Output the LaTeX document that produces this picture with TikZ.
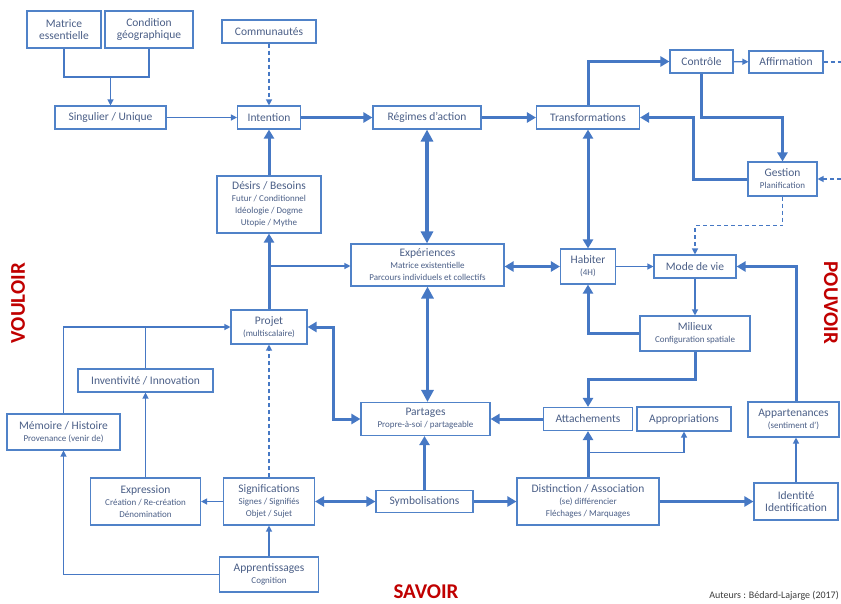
\documentclass[tikz,border=0pt]{standalone}
\usepackage{fontspec}
\setmainfont{Carlito}
\usetikzlibrary{arrows.meta}
\definecolor{linec}{RGB}{70,120,196}
\definecolor{boxc}{RGB}{80,130,200}
\definecolor{txtc}{RGB}{75,95,135}
\definecolor{redc}{RGB}{192,0,0}
\newcommand\smf{\fontsize{9}{11}\selectfont}
\tikzset{
  box/.style={draw=boxc, line width=1.1pt, fill=white, text=txtc, align=center, inner sep=1pt,
    font=\fontsize{11.5}{12}\selectfont},
  lnplain/.style={draw=linec, line width=1.2pt},
  lnthin/.style={lnplain, -{Triangle[length=6pt,width=6pt]}},
  lndash/.style={lnthin, dash pattern=on 4pt off 3pt},
  lndashplain/.style={lnplain, dash pattern=on 4pt off 3pt},
  lnthick/.style={draw=linec, line width=3pt, -{Triangle[length=9pt,width=10pt]}},
  lndbl/.style={draw=linec, line width=3pt, {Triangle[length=9pt,width=10pt]}-{Triangle[length=9pt,width=10pt]}},
  lnbig/.style={draw=linec, line width=3.6pt, {Triangle[length=12pt,width=12pt]}-{Triangle[length=12pt,width=12pt]}},
  axis/.style={text=redc, inner sep=0pt, font=\fontsize{21}{24}\selectfont\bfseries}
}
\begin{document}
\begin{tikzpicture}[x=1pt,y=-1pt]
\useasboundingbox (0,0) rectangle (841,603);
% nodes
\node[box, minimum width=74, minimum height=37] (mat) at (64,29.5) {Matrice\\essentielle};
\node[box, minimum width=88, minimum height=37] (cond) at (149,29.5) {Condition\\géographique};
\node[box, minimum width=94, minimum height=23] (comm) at (269,31.5) {Communautés};
\node[box, minimum width=111, minimum height=23] (sing) at (110.5,117.5) {Singulier / Unique};
\node[box, minimum width=63, minimum height=23] (inten) at (269,117.5) {Intention};
\node[box, minimum width=108, minimum height=23] (regimes) at (427,117.5) {Régimes d’action};
\node[box, minimum width=103, minimum height=23] (transf) at (588,117.5) {Transformations};
\node[box, minimum width=63, minimum height=23] (ctrl) at (701.5,61.5) {Contrôle};
\node[box, minimum width=74, minimum height=22] (affirm) at (786,62) {Affirmation};
\node[box, minimum width=69, minimum height=34] (gestion) at (782.5,179) {Gestion\\\smf Planification};
\node[box, minimum width=104, minimum height=57] (desirs) at (269,204.5) {Désirs / Besoins\\\smf Futur / Conditionnel\\\smf Idéologie / Dogme\\\smf Utopie / Mythe};
\node[box, minimum width=153, minimum height=42] (exper) at (427.5,265) {Expériences\\\smf Matrice existentielle\\\smf Parcours individuels et collectifs};
\node[box, minimum width=55, minimum height=35] (habiter) at (588,266.5) {Habiter\\\smf (4H)};
\node[box, minimum width=82, minimum height=23] (modevie) at (695,266.5) {Mode de vie};
\node[box, minimum width=76, minimum height=34] (projet) at (269,327) {Projet\\\smf (multiscalaire)};
\node[box, minimum width=135, minimum height=23] (invent) at (145.5,380.5) {Inventivité / Innovation};
\node[box, minimum width=113, minimum height=36] (memoire) at (63.5,432) {Mémoire / Histoire\\\smf Provenance (venir de)};
\node[box, minimum width=110, minimum height=35] (milieux) at (695,333.5) {Milieux\\\smf Configuration spatiale};
\node[box, minimum width=129, minimum height=33] (partages) at (425.5,419) {Partages\\\smf Propre-à-soi / partageable};
\node[box, minimum width=89, minimum height=23] (attach) at (588,419) {Attachements};
\node[box, minimum width=94, minimum height=24] (approp) at (684,419) {Appropriations};
\node[box, minimum width=91, minimum height=35] (appart) at (793.5,419.5) {Appartenances\\\smf (sentiment d’)};
\node[box, minimum width=110, minimum height=47] (expression) at (145.5,501.5) {Expression\\\smf Création / Re-création\\\smf Dénomination};
\node[box, minimum width=91, minimum height=47] (signif) at (269,501.5) {Significations\\\smf Signes / Signifiés\\\smf Objet / Sujet};
\node[box, minimum width=97, minimum height=22] (symb) at (424.5,501.5) {Symbolisations};
\node[box, minimum width=142, minimum height=47] (distinct) at (588,501.5) {Distinction / Association\\\smf (se) différencier\\\smf Fléchages / Marquages};
\node[box, minimum width=84, minimum height=37] (identite) at (796,501.5) {Identité\\Identification};
\node[box, minimum width=99, minimum height=35] (apprent) at (269,574.5) {Apprentissages\\\smf Cognition};
% labels
\node[axis, rotate=90] (voul) at (18,303) {VOULOIR};
\node[axis, rotate=-90] (pouv) at (831,303) {POUVOIR};
\node[axis] (savoir) at (426,592) {SAVOIR};
\node[text={rgb,255:red,60;green,60;blue,60}, inner sep=1pt, font=\fontsize{10}{12}\selectfont, anchor=east] (auteurs) at (840,596) {Auteurs : Bédard-Lajarge (2017)};
% coordinates
\coordinate (j1) at (110.5,77);
\coordinate (affR) at (841,62);
\coordinate (gR) at (841,179);
\coordinate (jb) at (269,266);
% connectors
\draw[lnplain] (mat.south) |- (j1) -| (cond.south);
\draw[lnthin] (j1) -- (sing.north);
\draw[lnthin] (sing) -- (inten);
\draw[lndash] (comm) -- (inten);
\draw[lnthick] (inten) -- (regimes);
\draw[lnthick] (regimes) -- (transf);
\draw[lnthick] (transf.north) |- (ctrl.west);
\draw[lnthin] (ctrl) -- (affirm);
\draw[lndashplain] (affirm.east) -- (affR);
\draw[lnthick] (ctrl.south) -- ++(0,44) -| (gestion.north);
\draw[lnthick] (gestion.west) -| (693,117.5) -- (transf.east);
\draw[lndash] (gR) -- (gestion.east);
\draw[lndash] (gestion.south) -- ++(0,29) -| (modevie.north);
\draw[lndbl] (transf.south) -- (habiter.north);
\draw[lnbig] (regimes.south) -- (regimes.south |- exper.north);
\draw[lndbl] (habiter.west -| exper.east) -- (habiter.west);
\draw[lnthin] (habiter) -- (modevie);
\draw[lnthick] (identite.north |- appart.north) |- (modevie.east);
\draw[lnthin] (identite.north) -- (identite.north |- appart.south);
\draw[lnthin] (modevie) -- (milieux);
\draw[lnthick] (milieux.west) -| (habiter.south);
\draw[lnthick] (milieux.south) -- ++(0,28) -| (attach.north);
\draw[lnthick] (attach.west) -- (attach.west -| partages.east);
\draw[lnthick] (distinct.north) -- (attach.south);
\path (attach.south) -- (distinct.north) coordinate[pos=0.47] (ja);
\draw[lnthin] (ja) -| (approp.south);
\draw[lnthick] (symb.east) -- (symb.east -| distinct.west);
\draw[lnthick] (distinct) -- (identite);
\draw[lndbl] (signif.east) -- (symb.west);
\draw[lnthick] (symb.north) -- (symb.north |- partages.south);
\draw[lnbig] (exper.south) -- (exper.south |- partages.north);
\draw[lndbl] (projet.east) -- ++(26,0) |- (partages.west);
\draw[lnthick] (projet.north) -- (desirs.south);
\draw[lnthick] (desirs.north) -- (inten.south);
\draw[lnthin] (jb) -- (jb -| exper.west);
\draw[lnthin] (memoire.north) |- (projet.west);
\draw[lnplain] (invent.north) -- (invent.north |- projet.west);
\draw[lndash] (signif.north) -- (projet.south);
\draw[lnthin] (signif.west) -- (expression.east);
\draw[lnthin] (expression.north) -- (invent.south);
\draw[lnthin] (apprent.north) -- (signif.south);
\draw[lnthin] (apprent.west) -| (memoire.south);
\end{tikzpicture}
\end{document}
